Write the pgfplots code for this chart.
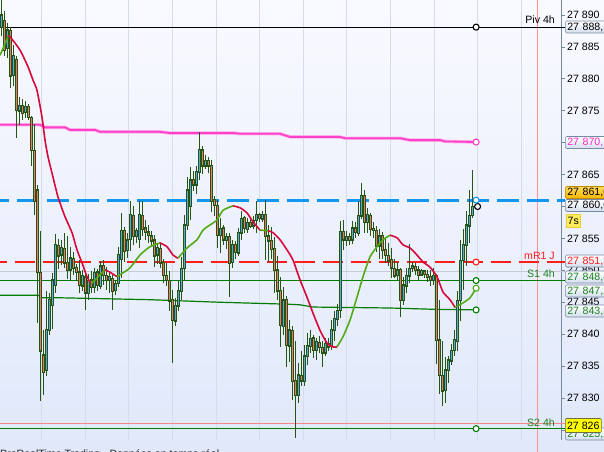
\documentclass[border=0pt]{standalone}
\usepackage{pgfplots}
\pgfplotsset{compat=1.18}
\usepackage{pgfplotstable}
\usepackage{fontspec}
\setmainfont{Liberation Sans}

\definecolor{candle}{RGB}{38,84,22}
\definecolor{upbody}{RGB}{92,168,222}
\definecolor{dnbody}{RGB}{236,122,102}
\definecolor{maup}{RGB}{82,170,22}
\definecolor{madn}{RGB}{214,8,58}
\definecolor{mag}{RGB}{255,64,200}
\definecolor{maghalo}{RGB}{255,175,235}
\definecolor{lvlblue}{RGB}{18,150,240}
\definecolor{lvlred}{RGB}{255,30,30}
\definecolor{lvlgreen}{RGB}{0,125,0}
\definecolor{lowline}{RGB}{245,135,135}
\definecolor{vline}{RGB}{255,145,145}
\definecolor{prevline}{RGB}{200,203,212}
\definecolor{gridc}{RGB}{214,221,234}
\definecolor{axisc}{RGB}{118,136,156}
\definecolor{bgtop}{RGB}{249,250,255}
\definecolor{bgbot}{RGB}{224,232,250}
\definecolor{tagfill}{RGB}{212,222,238}
\definecolor{tagborder}{RGB}{120,138,165}
\definecolor{taggreen}{RGB}{30,130,30}
\definecolor{tagmag}{RGB}{255,40,200}

% 1-minute bars: index, open, high, low, close
\pgfplotstableread{
i o h l c
0 27888.1 27892.8 27886.9 27890.0
1 27889.2 27890.8 27883.7 27884.5
2 27884.8 27888.9 27883.3 27887.6
3 27887.6 27888.1 27878.6 27880.6
4 27880.6 27885.3 27879.0 27883.7
5 27883.0 27883.7 27870.9 27875.1
6 27875.1 27877.2 27872.8 27875.9
7 27875.9 27877.0 27873.6 27874.8
8 27874.8 27876.7 27873.9 27875.7
9 27875.7 27876.1 27873.6 27874.0
10 27874.0 27874.3 27866.5 27868.9
11 27868.9 27873.1 27858.7 27861.0
12 27862.6 27863.4 27841.8 27849.7
13 27849.7 27856.3 27829.7 27837.5
14 27836.7 27840.7 27830.5 27834.1
15 27834.4 27846.9 27833.6 27840.7
16 27840.7 27846.5 27839.9 27845.4
17 27844.6 27849.6 27840.7 27848.5
18 27847.7 27855.9 27846.6 27854.0
19 27854.0 27855.1 27850.4 27852.4
20 27852.4 27854.8 27850.8 27853.5
21 27853.5 27855.9 27850.5 27851.3
22 27851.3 27855.5 27848.8 27850.1
23 27850.1 27853.7 27848.5 27851.9
24 27851.9 27852.9 27849.3 27850.4
25 27850.4 27851.2 27848.5 27849.7
26 27849.7 27851.6 27846.5 27847.7
27 27847.7 27850.1 27846.9 27849.3
28 27849.0 27849.7 27843.8 27846.6
29 27846.6 27849.6 27845.4 27848.5
30 27848.5 27850.1 27846.6 27847.4
31 27847.4 27850.5 27846.5 27849.7
32 27849.7 27850.4 27846.9 27847.7
33 27847.7 27851.6 27847.2 27850.8
34 27850.8 27851.6 27847.7 27849.3
35 27849.3 27850.5 27846.9 27848.5
36 27848.5 27849.7 27846.6 27849.1
37 27848.8 27849.3 27843.8 27846.9
38 27846.9 27848.5 27846.1 27848.0
39 27848.0 27853.7 27847.4 27852.4
40 27851.9 27859.0 27848.8 27856.3
41 27856.3 27856.8 27851.3 27853.2
42 27853.2 27855.9 27852.1 27854.8
43 27854.8 27861.0 27853.2 27858.7
44 27858.7 27860.2 27854.0 27855.5
45 27855.5 27856.8 27854.4 27856.3
46 27854.8 27861.0 27853.7 27858.7
47 27858.7 27861.0 27855.5 27856.6
48 27856.6 27857.9 27854.8 27856.0
49 27856.0 27857.1 27854.4 27855.5
50 27855.5 27856.3 27853.7 27854.8
51 27854.8 27855.5 27850.5 27852.4
52 27852.4 27854.3 27851.2 27853.5
53 27853.5 27854.3 27850.4 27851.3
54 27851.3 27851.9 27848.0 27849.3
55 27849.3 27851.3 27847.7 27848.5
56 27848.5 27850.1 27843.8 27845.4
57 27845.4 27846.9 27835.6 27842.2
58 27842.2 27845.7 27841.4 27844.6
59 27844.6 27848.5 27843.8 27846.9
60 27846.9 27852.1 27845.4 27850.4
61 27850.4 27858.7 27848.5 27857.1
62 27857.1 27864.6 27856.3 27862.6
63 27860.2 27866.2 27857.9 27864.2
64 27864.2 27865.7 27862.6 27863.4
65 27863.4 27866.5 27862.1 27865.4
66 27865.4 27871.7 27864.2 27868.9
67 27868.9 27869.6 27865.2 27866.5
68 27866.5 27868.1 27866.0 27867.3
69 27867.3 27867.9 27865.4 27866.5
70 27866.5 27867.3 27859.1 27861.0
71 27861.0 27861.8 27858.7 27860.2
72 27860.2 27861.0 27853.5 27855.5
73 27855.5 27858.2 27852.7 27856.6
74 27856.6 27857.1 27854.0 27854.8
75 27854.8 27856.0 27853.5 27855.4
76 27855.4 27855.9 27845.8 27851.3
77 27851.3 27854.8 27850.4 27854.0
78 27854.0 27854.8 27851.9 27852.9
79 27852.9 27856.8 27852.4 27856.0
80 27856.0 27859.4 27854.8 27858.2
81 27858.2 27858.7 27856.0 27856.6
82 27856.6 27858.4 27856.0 27857.6
83 27857.6 27858.2 27856.6 27857.1
84 27857.1 27858.7 27856.6 27857.9
85 27857.9 27861.0 27856.0 27858.7
86 27858.7 27859.1 27857.6 27858.2
87 27858.2 27859.4 27857.6 27858.8
88 27858.8 27861.0 27851.6 27855.5
89 27855.5 27857.1 27851.3 27854.8
90 27854.8 27856.8 27851.9 27853.5
91 27853.5 27855.2 27846.5 27850.1
92 27850.1 27852.4 27845.4 27846.9
93 27846.9 27849.0 27838.0 27841.4
94 27841.4 27847.4 27839.9 27845.4
95 27845.4 27846.1 27834.9 27838.3
96 27838.3 27842.2 27835.6 27840.7
97 27840.7 27841.4 27829.7 27832.8
98 27832.8 27839.1 27823.9 27830.5
99 27830.5 27835.5 27829.2 27833.6
100 27833.6 27837.5 27832.0 27832.8
101 27832.8 27838.3 27832.0 27836.7
102 27836.7 27840.2 27835.2 27838.3
103 27838.3 27840.7 27837.1 27839.4
104 27839.4 27839.9 27836.3 27837.5
105 27837.5 27839.4 27836.0 27838.8
106 27838.8 27839.9 27837.2 27838.0
107 27838.0 27839.1 27834.9 27837.2
108 27837.2 27839.4 27836.7 27838.6
109 27838.6 27839.6 27837.5 27838.1
110 27838.1 27842.2 27837.5 27840.7
111 27840.7 27843.8 27839.1 27842.5
112 27842.5 27844.9 27841.4 27843.8
113 27843.8 27857.9 27842.7 27856.0
114 27856.0 27857.9 27853.2 27854.8
115 27854.8 27856.3 27854.0 27855.4
116 27855.4 27856.0 27854.0 27854.8
117 27854.8 27857.9 27854.3 27856.6
118 27856.6 27857.6 27855.1 27856.0
119 27856.0 27861.0 27855.5 27858.7
120 27858.7 27863.8 27858.2 27861.8
121 27861.8 27862.6 27855.9 27857.6
122 27857.6 27859.8 27856.0 27858.7
123 27858.7 27859.1 27855.5 27856.6
124 27856.6 27857.6 27855.1 27856.3
125 27856.3 27857.1 27852.9 27854.0
126 27854.0 27856.6 27851.9 27855.5
127 27855.5 27856.0 27851.9 27853.2
128 27853.2 27855.1 27851.3 27852.4
129 27852.4 27854.3 27850.8 27851.6
130 27851.6 27853.5 27848.8 27850.4
131 27850.4 27851.9 27848.8 27849.3
132 27849.3 27851.3 27848.5 27850.1
133 27850.1 27850.4 27842.7 27845.4
134 27845.4 27849.0 27844.6 27847.7
135 27847.7 27850.4 27846.6 27849.3
136 27849.3 27854.3 27848.2 27850.4
137 27850.4 27851.3 27849.7 27850.7
138 27850.7 27851.2 27849.3 27850.1
139 27850.1 27850.7 27848.5 27849.3
140 27849.3 27850.2 27849.1 27849.9
141 27849.9 27850.1 27849.0 27849.4
142 27849.4 27850.1 27848.3 27849.1
143 27849.1 27850.1 27847.7 27848.5
144 27848.5 27850.4 27847.7 27849.3
145 27849.3 27849.6 27835.5 27839.1
146 27839.1 27845.4 27830.8 27833.6
147 27833.6 27839.1 27828.9 27831.3
148 27831.3 27836.4 27829.2 27834.4
149 27834.4 27836.7 27832.4 27836.0
150 27836.0 27838.6 27835.2 27837.5
151 27837.5 27840.7 27836.7 27839.1
152 27839.1 27846.9 27837.5 27845.4
153 27845.4 27854.8 27842.2 27851.6
154 27851.6 27856.6 27846.9 27854.0
155 27854.0 27859.4 27850.8 27857.1
156 27857.1 27862.6 27854.3 27858.7
157 27858.7 27865.7 27858.2 27860.0
}\candles

% slow average (magenta)
\pgfplotstableread{
i v
-0.5 27872.8
12.8 27872.8
14.5 27872.4
21.2 27872.4
22.8 27872.0
31.2 27872.0
32.8 27871.7
52.8 27871.7
56.2 27871.5
77.8 27871.5
79.5 27871.4
92.8 27871.4
96.2 27870.9
112.8 27870.9
114.5 27870.7
132.8 27870.7
136.2 27870.4
146.2 27870.4
147.8 27870.2
158.2 27870.1
}\magline

\tikzset{
  lbl/.style={font=\fontsize{10.6}{12}\selectfont, inner sep=0pt},
  tag/.style={draw=tagborder, line width=0.6pt, rounded corners=1.5pt,
    top color=white, bottom color=tagfill, anchor=west,
    minimum height=12pt, text width=44pt, inner xsep=2pt, inner ysep=0pt,
    align=left, font=\fontsize{10.6}{12}\selectfont},
}

\begin{document}
\begin{tikzpicture}
\path[use as bounding box] (0,0) rectangle (604pt,451pt);
\clip (0,0) rectangle (604pt,451pt);
\shade[top color=bgtop, bottom color=bgbot] (0,0) rectangle (604pt,451pt);

\begin{axis}[
  at={(0pt,11pt)}, anchor=south west,
  scale only axis, width=561pt, height=440pt,
  xmin=-0.5, xmax=186.5, ymin=27823.42, ymax=27892.35,
  clip=false,
  axis y line*=right, axis x line*=bottom,
  x axis line style={draw=none},
  y axis line style={draw=axisc, line width=0.8pt},
  xtick={13.33,27.83,42.33,56.83,71.5,86,100.5,115,129.5,144.17,158.67,173.17},
  xticklabels={}, xmajorgrids,
  major grid style={draw=gridc, line width=0.8pt},
  x tick style={draw=none},
  ytick={27825,27830,...,27890},
  yticklabels={27 825,27 830,27 835,27 840,27 845,27 850,27 855,27 860,27 865,27 870,27 875,27 880,27 885,27 890},
  y tick style={draw=axisc, line width=0.8pt},
  tick align=outside, major tick length=4pt,
  yticklabel style={font=\fontsize{10.6}{12}\selectfont, text=black, anchor=west, inner sep=0pt, xshift=2pt},
]

% session marker
\addplot[vline, line width=1pt, forget plot] coordinates {(178.5,27821.5) (178.5,27893)};

% levels
\addplot[prevline, line width=0.9pt] coordinates {(-0.5,27849.8) (187.8,27849.8)};
\addplot[lowline, line width=1.2pt] coordinates {(-0.5,27826.0) (187.8,27826.0)};
\addplot[lvlgreen, line width=1.2pt] coordinates {(-0.5,27825.2) (187.8,27825.2)};
\addplot[lvlgreen, line width=1.2pt] coordinates {(-0.5,27848.4) (187.8,27848.4)};
\addplot[lvlgreen, line width=1.2pt] coordinates {(-0.5,27846.1)(12.17,27846.1)(13.5,27845.7)(19.5,27845.7)(49.5,27845.4)(72.83,27845.0)(95.17,27844.7)(99.5,27844.6)(103.83,27844.25)(129.5,27844.1)(143.83,27843.9)(158.2,27843.8)};
\addplot[black, line width=1pt] coordinates {(-0.5,27888.1) (187.8,27888.1)};
\addplot[maghalo, line width=3.4pt] table[x=i,y=v]{\magline};
\addplot[mag, line width=1.8pt] table[x=i,y=v]{\magline};
\addplot[lvlred, line width=1.3pt, dash pattern=on 20pt off 8pt, dash phase=13.3pt] coordinates {(-0.5,27851.3) (187.8,27851.3)};
\addplot[lvlblue, line width=2.8pt, dash pattern=on 22pt off 8pt, dash phase=13.3pt] coordinates {(-0.5,27861.0) (187.8,27861.0)};

% candles: wicks, body outlines, body fills
\addplot[draw=none, mark=none, error bars/.cd, y dir=both, y explicit, error mark=none,
  error bar style={draw=candle, line width=1.1pt}]
  table[x=i, y expr={(\thisrow{h}+\thisrow{l})/2}, y error expr={(\thisrow{h}-\thisrow{l})/2}]{\candles};
\addplot[draw=none, mark=none, error bars/.cd, y dir=both, y explicit, error mark=none,
  error bar style={draw=candle, line width=2.7pt}]
  table[x=i, y expr={(\thisrow{o}+\thisrow{c})/2}, y error expr={abs(\thisrow{o}-\thisrow{c})/2+0.14}]{\candles};
\addplot[draw=none, mark=none, restrict expr to domain={\thisrow{c}-\thisrow{o}}{0:1000},
  error bars/.cd, y dir=both, y explicit, error mark=none,
  error bar style={draw=upbody, line width=0.75pt}]
  table[x=i, y expr={(\thisrow{o}+\thisrow{c})/2}, y error expr={max(abs(\thisrow{o}-\thisrow{c})/2-0.05,0)}]{\candles};
\addplot[draw=none, mark=none, restrict expr to domain={\thisrow{o}-\thisrow{c}}{0.001:1000},
  error bars/.cd, y dir=both, y explicit, error mark=none,
  error bar style={draw=dnbody, line width=0.75pt}]
  table[x=i, y expr={(\thisrow{o}+\thisrow{c})/2}, y error expr={max(abs(\thisrow{o}-\thisrow{c})/2-0.05,0)}]{\candles};

% fast average, coloured by slope
\pgfplotsset{maU/.style={maup, line width=1.6pt, smooth, tension=0.4}, maD/.style={madn, line width=1.6pt, smooth, tension=0.4}}
\addplot[maU] coordinates {(-0.5,27883.7)(0.83,27885.1)(2.17,27886.6)};
\addplot[maD] coordinates {(2.17,27886.6)(2.83,27886.6)(6.17,27884.5)(8.83,27881.9)(10.5,27879.8)(11.83,27878.2)(13.5,27874.0)(14.5,27870.4)(15.5,27867.8)(17.17,27864.6)(18.83,27861.5)(21.17,27858.4)(23.5,27855.9)(25.17,27853.2)(26.83,27851.2)(28.5,27849.0)(29.83,27847.9)};
\addplot[maU] coordinates {(29.83,27847.9)(31.17,27848.5)(32.83,27849.3)(34.5,27850.1)};
\addplot[maD] coordinates {(34.5,27850.1)(36.17,27849.7)(38.5,27849.0)};
\addplot[maU] coordinates {(38.5,27849.0)(39.5,27849.3)(42.83,27850.4)(46.17,27852.4)(49.5,27853.7)(52.83,27854.3)};
\addplot[maD] coordinates {(52.83,27854.3)(55.17,27853.7)(57.17,27852.4)(58.83,27851.9)};
\addplot[maU] coordinates {(58.83,27851.9)(61.83,27853.5)(65.17,27854.8)(67.17,27856.3)(69.5,27857.1)(71.83,27857.9)(73.83,27859.4)(77.17,27860.1)};
\addplot[maD] coordinates {(77.17,27860.1)(79.5,27859.8)(81.83,27859.0)(83.83,27857.6)(86.17,27856.3)};
\addplot[maU] coordinates {(86.17,27856.3)(88.83,27856.2)};
\addplot[maD] coordinates {(88.83,27856.2)(90.5,27855.9)(92.83,27854.8)(95.17,27853.2)(97.17,27851.6)(99.5,27848.5)(101.83,27845.8)(103.83,27843.3)(106.17,27840.6)(108.5,27838.6)(110.5,27838.0)(111.83,27838.0)};
\addplot[maU] coordinates {(111.83,27838.0)(113.83,27839.6)(116.17,27842.2)(118.5,27845.8)(120.5,27849.0)(122.83,27852.1)(125.17,27853.7)(127.17,27854.8)(129.5,27855.5)};
\addplot[maD] coordinates {(129.5,27855.5)(131.83,27855.1)(133.83,27854.0)(136.17,27853.5)(138.5,27852.4)(140.5,27851.3)(142.83,27850.5)(145.17,27849.0)(147.17,27846.6)(149.5,27845.4)(151.17,27844.2)};
\addplot[maU] coordinates {(151.17,27844.2)(153.83,27844.9)(156.17,27845.7)(158.2,27847.2)};

% end-of-line markers
\pgfplotsset{endmark/.style={only marks, mark=*, mark size=3pt, mark options={draw=#1, fill=white, line width=1.1pt}}}
\addplot[endmark=black] coordinates {(158.2,27888.1)};
\addplot[endmark=mag] coordinates {(158.2,27870.1)};
\addplot[endmark=black] coordinates {(158.7,27860.0)};
\addplot[endmark=lvlblue] coordinates {(158.2,27861.0)};
\addplot[endmark=lvlred] coordinates {(158.2,27851.3)};
\addplot[endmark=lvlgreen] coordinates {(158.2,27848.4)};
\addplot[endmark=maup] coordinates {(158.2,27847.2)};
\addplot[endmark=lvlgreen] coordinates {(158.2,27843.8)};
\addplot[endmark=lvlgreen] coordinates {(158.2,27825.2)};

% level names
\node[lbl, anchor=base east, yshift=3.5pt] at (axis cs:184.5,27888.1) {Piv 4h};
\node[lbl, anchor=base east, yshift=2.5pt, text=lvlred] at (axis cs:184.5,27851.3) {mR1 J};
\node[lbl, anchor=base east, yshift=3pt, text=taggreen] at (axis cs:184.5,27848.4) {S1 4h};
\node[lbl, anchor=base east, yshift=2.5pt, text=taggreen] at (axis cs:184.5,27825.2) {S2 4h};
\end{axis}

% price tags on the scale
\node[tag] at (565pt,424pt) {27 888,1};
\node[tag, text=tagmag] at (565pt,308.5pt) {27 870,1};
\node[tag, draw={rgb,255:red,190;green,140;blue,0}, top color={rgb,255:red,255;green,218;blue,90}, bottom color={rgb,255:red,246;green,182;blue,0}] at (565pt,258.5pt) {27 861,0};
\node[tag] at (565pt,245.5pt) {27 860,0};
\node[draw={rgb,255:red,235;green,205;blue,60}, fill={rgb,255:red,255;green,238;blue,90}, anchor=west, minimum width=14pt, minimum height=13pt, inner sep=0pt, font=\fontsize{10.6}{12}\selectfont] at (566pt,230.5pt) {7s};
\node[tag, text=lvlred] at (565pt,190pt) {27 851,3};
\node[tag, text=taggreen] at (565pt,174pt) {27 848,4};
\node[tag, text=taggreen] at (565pt,160pt) {27 847,2};
\node[tag, text=taggreen] at (565pt,140pt) {27 843,8};
\node[tag, text=taggreen] at (565pt,17pt) {27 825,2};
\node[draw={rgb,255:red,110;green,110;blue,70}, line width=0.6pt, fill={rgb,255:red,255;green,255;blue,0}, rounded corners=1pt, anchor=west, minimum width=36pt, minimum height=14pt, inner sep=0pt, font=\fontsize{10.6}{12}\selectfont] at (565pt,25.5pt) {27 826};

% footer
\node[anchor=base west, inner sep=0pt, font=\fontsize{10.6}{12}\selectfont, text=black!85] at (0pt,-6pt) {ProRealTime Trading - Données en temps réel};
\end{tikzpicture}
\end{document}
